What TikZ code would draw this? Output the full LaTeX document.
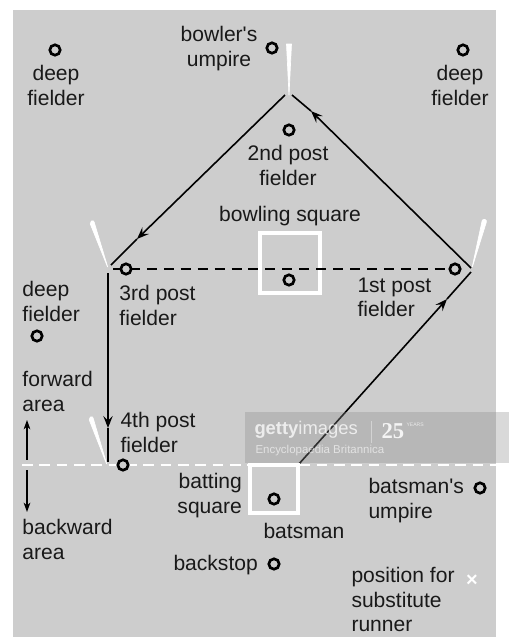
\documentclass[tikz,border=0pt]{standalone}
\usepackage{fontspec}
\setmainfont{Liberation Sans}[Ligatures=TeXOff]
\newfontfamily\yearfont{Liberation Serif}
\usetikzlibrary{arrows.meta}

\tikzset{every picture/.style={line width=0.75pt}}
\tikzset{
	post/.style={circle,draw=black,line width=2pt,fill=courtgray,minimum size=7.8pt,inner sep=0pt},
	lbl/.style={anchor=north west,inner sep=0pt,align=left,text=black!90,font=\fontsize{15.8}{18.4}\selectfont},
	lblc/.style={lbl,anchor=north,align=center},
	runline/.style={line width=1.2pt,black},
	runtip/.style={runline,-{Stealth[length=9pt,width=7pt,inset=3.5pt]}},
	square/.style={draw=white,line width=2.6pt},
	wicket/.style={white,line join=round,draw=white,line width=0.5pt}
}
\definecolor{courtgray}{RGB}{205,205,205}

\begin{document}
\begin{tikzpicture}[x=0.75pt,y=0.75pt,yscale=-1,xscale=1]
	\useasboundingbox (0,0) rectangle (509,637);
	%background
	\fill [courtgray] (13,10) rectangle (496,637);
	
	%corners of the run
	\coordinate (topend) at (289,95);
	\coordinate (leftend) at (108,268);
	\coordinate (rightend) at (471,272);
	\coordinate (bottomend) at (108,462);
	\coordinate (startrun) at (298,465);
	\coordinate (topin) at (285,95);
	\coordinate (topout) at (292,95);
	\coordinate (leftin) at (111,265);
	\coordinate (leftdown) at (108,273);
	\coordinate (rightup) at (471,268);
	
	%arrow heads sit here
	\coordinate (tipa) at (137,239);
	\coordinate (tipb) at (311,111);
	\coordinate (tipc) at (108,428);
	\coordinate (tipd) at (447,299);
	
	%Straight Lines
	\draw [runtip] (topin) -- (tipa);
	\draw [runline] (tipa) -- (leftin);
	\draw [runtip] (rightup) -- (tipb);
	\draw [runline] (tipb) -- (topout);
	\draw [runtip] (leftdown) -- (tipc);
	\draw [runline] (tipc) -- (bottomend);
	\draw [runtip] (startrun) -- (tipd);
	\draw [runline] (tipd) -- (rightend);
	
	%white posts
	\fill [wicket] (topend) -- (286.5,44) -- (291.5,44) -- cycle;
	\fill [wicket,rounded corners=1.5pt] (108,268) -- (89.5,222) -- (93.5,220) -- cycle;
	\fill [wicket,rounded corners=1.5pt] (472,268) -- (482.5,219) -- (487,220) -- cycle;
	\fill [wicket,rounded corners=1.5pt] (107,465) -- (88.5,418) -- (92.5,416) -- cycle;
	
	%squares
	\draw [square] (260,233) rectangle (320,293);
	\draw [square] (250,465) rectangle (298,513);
	
	%crease lines
	\coordinate (creasea) at (113,269);
	\coordinate (creaseb) at (455,269);
	\coordinate (linea) at (22,465);
	\coordinate (lineb) at (496,465);
	\draw [line width=1.5pt,dash pattern={on 7.5pt off 5.2pt}] (creasea) -- (creaseb);
	\draw [white,line width=1.5pt,dash pattern={on 8pt off 5pt}] (linea) -- (lineb);
	
	%area arrows
	\coordinate (areamid) at (27,465);
	\coordinate (areaup) at (27,420);
	\coordinate (areadown) at (27,512);
	\draw [line width=1pt,-{Stealth[length=7pt,width=5pt,inset=2pt]},shorten <=4pt] (areamid) -- (areaup);
	\draw [line width=1pt,-{Stealth[length=7pt,width=5pt,inset=2pt]},shorten <=4pt] (areamid) -- (areadown);
	
	%fielders
	\node [post] (umpa) at (272,48) {};
	\node [post] (deepa) at (55,50) {};
	\node [post] (deepb) at (463,50) {};
	\node [post] (second) at (289,130) {};
	\node [post] (bowler) at (289,280) {};
	\node [post] (third) at (126,269) {};
	\node [post] (first) at (455,269) {};
	\node [post] (deepc) at (37,336) {};
	\node [post] (fourth) at (123,465) {};
	\node [post] (batsman) at (274,499) {};
	\node [post] (umpb) at (480,488) {};
	\node [post] (stop) at (274,564) {};
	\node [white,font=\bfseries\fontsize{15}{15}\selectfont,inner sep=0pt] (runner) at (472,581) {×};
	
	% Text Node
	\node [lblc] (lumpa) at (219,26) {bowler's\\umpire};
	\node [lblc] (ldeepa) at (56,65) {deep\\fielder};
	\node [lblc] (ldeepb) at (460,65) {deep\\fielder};
	\node [lblc] (lsecond) at (288,145) {2nd post\\fielder};
	\node [lblc] (lsquare) at (290,206) {bowling square};
	\node [lbl] (lthird) at (119,285) {3rd post\\fielder};
	\node [lbl] (lfirst) at (357,277) {1st post\\fielder};
	\node [lbl] (ldeepc) at (22,281) {deep\\fielder};
	\node [lbl] (lforward) at (22,371) {forward\\area};
	\node [lbl] (lfourth) at (120,412) {4th post\\fielder};
	\node [lbl] (lback) at (22,519) {backward\\area};
	\node [lbl,align=right] (lbatting) at (177,473) {batting\\square};
	\node [lbl] (lbatsman) at (263,523) {batsman};
	\node [lbl] (lumpb) at (368,478) {batsman's\\umpire};
	\node [lbl] (lstop) at (173,555) {backstop};
	\node [lbl] (lrunner) at (351,567) {position for\\substitute\\runner};
	
	%watermark
	\fill [black!45,opacity=0.33] (245,412) rectangle (509,463);
	\node [anchor=west,inner sep=0pt,text=white,opacity=0.75,font=\fontsize{13.8}{13.8}\selectfont] (getty) at (254,430) {\textbf{getty}images};
	\node [anchor=west,inner sep=0pt,text=white,opacity=0.6,font=\fontsize{8.6}{8.6}\selectfont] (britannica) at (255,451) {Encyclopaedia Britannica};
	\node [anchor=west,inner sep=0pt,text=white,opacity=0.85,font=\yearfont\bfseries\fontsize{17}{17}\selectfont] (years) at (381,431) {25};
	\node [anchor=west,inner sep=0pt,text=white,opacity=0.7,font=\fontsize{3.8}{3.8}\selectfont] (yearsb) at (406,425) {YEARS};
	\coordinate (barup) at (371,421);
	\coordinate (bardown) at (371,443);
	\draw [white,opacity=0.4,line width=0.6pt] (barup) -- (bardown);
\end{tikzpicture}
\end{document}
